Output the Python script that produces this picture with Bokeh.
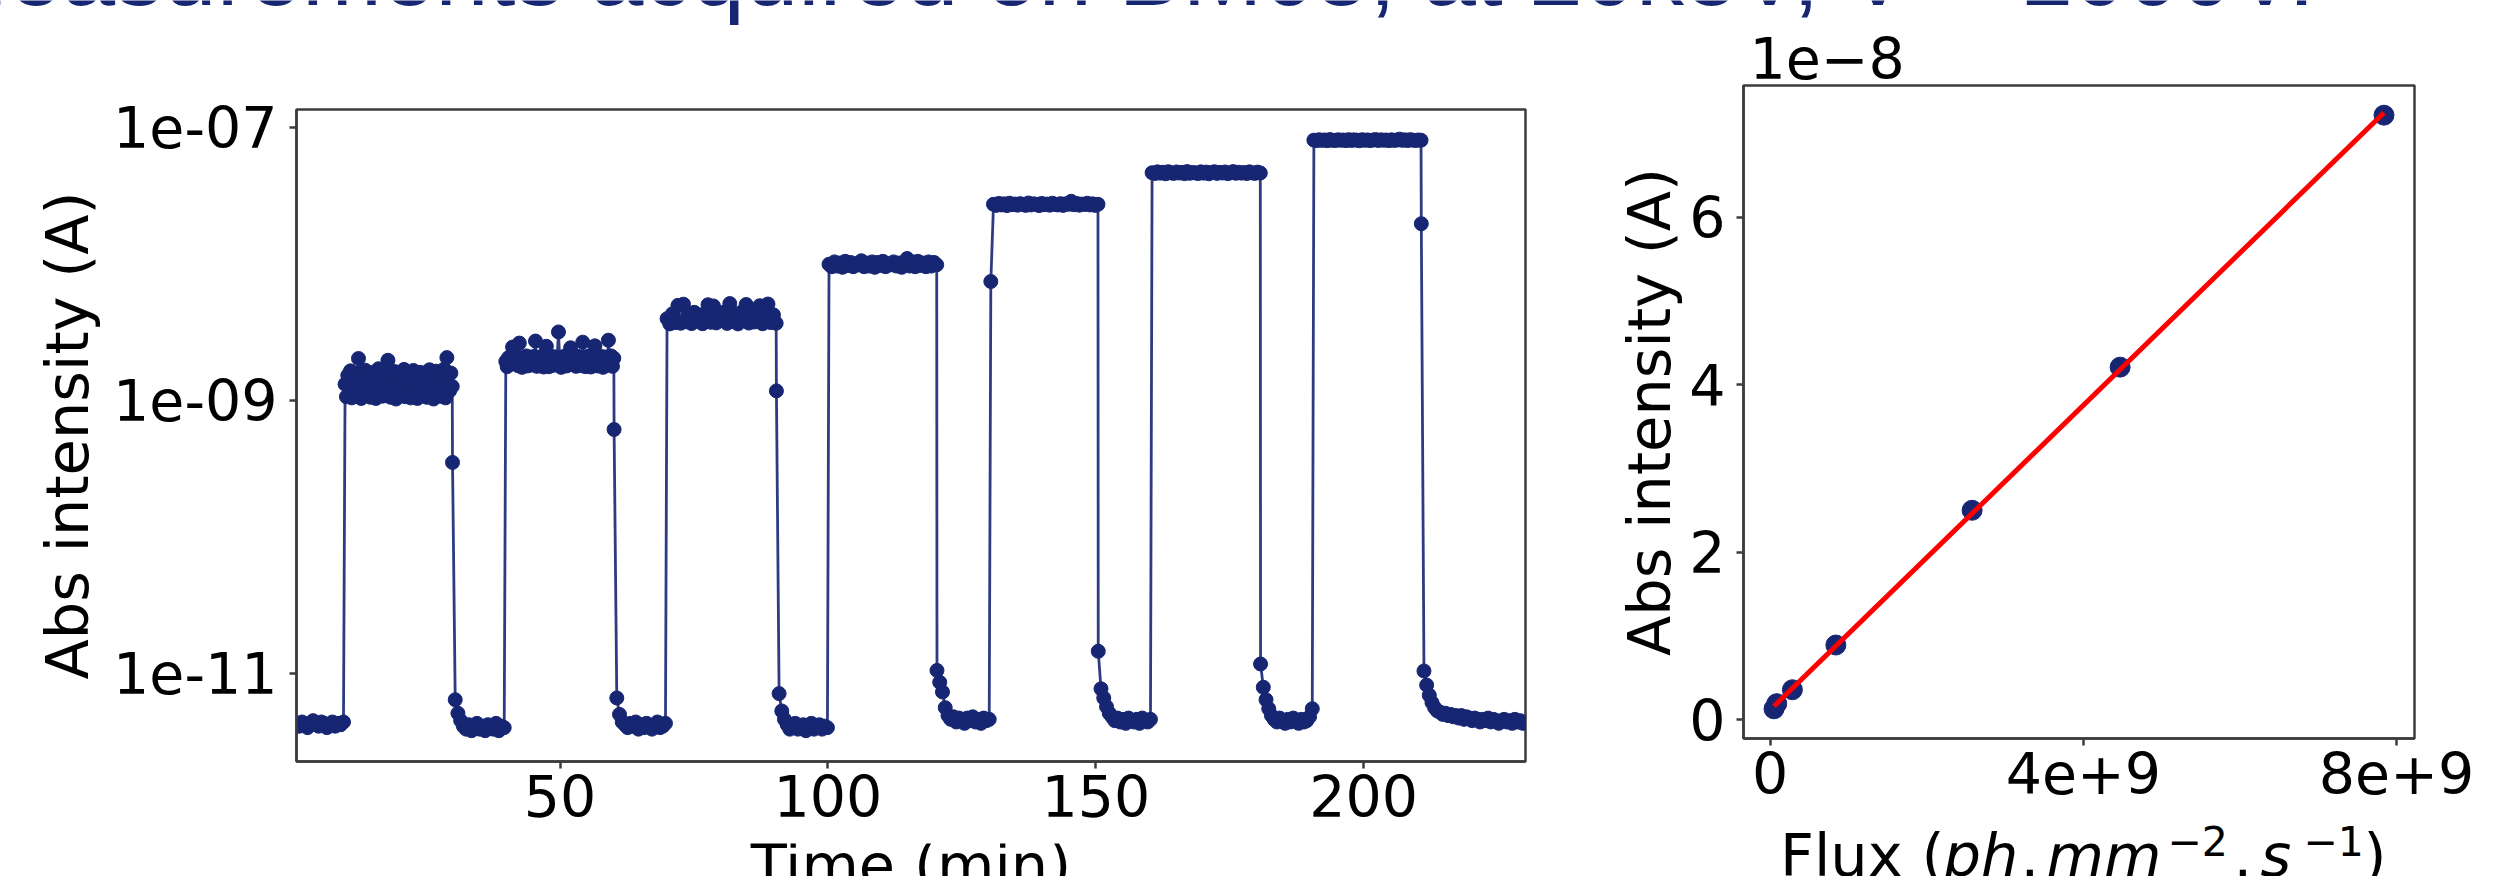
import numpy as np
from bokeh.plotting import figure
from bokeh.models import Range1d, FixedTicker, CustomJSTickFormatter, Label
from bokeh.layouts import column, row
from bokeh.embed import file_html
from bokeh.resources import INLINE

# ---------------- data ----------------
title_text = "Measurements acquired on BM05, at 20keV, V = 1000V."

record_start_min = 0.8
record_end_min = 230.2
beam_on_min = [9.87, 39.87, 69.97, 100.2, 130.4, 160.5, 190.7]
beam_off_min = [29.87, 60.03, 90.33, 120.3, 150.4, 180.7, 210.7]

# beam-on plateaus
step1_nA = [1.31, 1.06, 1.52, 1.12, 1.64, 1.04, 1.38, 1.21, 1.58, 1.09,
            2.02, 1.27, 1.03, 1.47, 1.16, 1.66, 1.08, 1.35, 1.55, 1.05,
            1.42, 1.19, 1.61, 1.03, 1.29, 1.70, 1.11, 1.44, 1.07, 1.57,
            1.24, 1.36, 1.96, 1.14, 1.05, 1.50, 1.33, 1.62, 1.02, 1.26,
            1.59, 1.10, 1.45, 1.18, 1.68, 1.06, 1.40, 1.22, 1.54, 1.04,
            1.37, 1.65, 1.13, 1.48, 1.03, 1.30, 1.60, 1.09, 1.43, 1.20,
            1.56, 1.05, 1.34, 1.67, 1.15, 1.46, 1.02, 1.28, 1.63, 1.11,
            1.41, 1.07, 1.53, 1.23, 1.69, 1.04, 2.05, 1.32, 1.17, 1.58,
            1.26]
step2_nA = [1.92, 1.76, 2.05, 1.83, 2.10, 2.45, 1.98, 1.87, 2.08, 1.79,
            2.62, 1.95, 1.74, 2.03, 1.85, 2.11, 1.78, 1.96, 2.07, 1.81,
            1.99, 2.09, 2.71, 1.77, 1.90, 2.06, 1.84, 2.11, 1.75, 2.01,
            2.48, 2.04, 1.76, 2.10, 1.93, 1.80, 2.08, 1.86, 2.02, 3.16,
            1.91, 1.74, 2.07, 1.82, 2.11, 1.78, 1.97, 2.05, 2.42, 2.09,
            1.85, 2.00, 1.77, 2.10, 1.89, 2.04, 1.79, 2.66, 1.94, 1.76,
            2.08, 1.83, 2.11, 1.75, 1.98, 2.06, 2.50, 2.10, 1.78, 2.02,
            1.87, 2.09, 1.74, 1.95, 2.07, 1.80, 2.75, 1.92, 2.11, 1.77,
            2.03]
step3_nA = [3.95, 3.62, 4.30, 3.70, 4.95, 3.66, 5.05, 3.75, 4.25, 3.64,
            4.40, 3.80, 4.10, 3.63, 4.35, 5.00, 3.72, 4.90, 3.68, 4.28,
            3.85, 4.42, 3.65, 5.10, 3.78, 4.20, 3.62, 4.38, 3.90, 5.02,
            3.67, 4.32, 3.74, 4.15, 4.92, 3.63, 4.41, 5.06, 3.70, 4.22,
            3.66]
step4_nA = [9.9, 9.5, 10.3, 9.6, 10.1, 9.4, 10.4, 9.7, 10.2, 9.5,
            10.0, 9.8, 10.5, 9.5, 10.1, 9.6, 10.3, 9.4, 10.2, 9.7,
            10.4, 9.5, 10.0, 9.8, 10.3, 9.6, 10.1, 9.4, 10.2, 10.9,
            9.6, 10.3, 9.5, 10.4, 9.7, 10.1, 9.5, 10.3, 9.6, 10.2,
            9.8]
step5_1e8A = [0.74, 2.72, 2.67, 2.76, 2.69, 2.74, 2.66, 2.77, 2.70, 2.73,
              2.68, 2.75, 2.71, 2.67, 2.78, 2.69, 2.74, 2.72, 2.66, 2.76,
              2.70, 2.73, 2.68, 2.77, 2.71, 2.69, 2.75, 2.67, 2.74, 2.72,
              2.86, 2.70, 2.76, 2.68, 2.73, 2.71, 2.77, 2.69, 2.74, 2.67,
              2.72]
step6_1e8A = [4.63, 4.57, 4.70, 4.60, 4.67, 4.55, 4.71, 4.62, 4.58, 4.69,
              4.61, 4.66, 4.56, 4.72, 4.59, 4.65, 4.62, 4.57, 4.70, 4.60,
              4.68, 4.55, 4.64, 4.71, 4.58, 4.66, 4.61, 4.69, 4.56, 4.63,
              4.72, 4.59, 4.67, 4.60, 4.65, 4.57, 4.70, 4.62, 4.58, 4.68,
              4.61]
step7_1e8A = [8.02, 7.96, 8.08, 7.99, 8.05, 7.95, 8.10, 8.00, 7.97, 8.07,
              8.01, 8.04, 7.96, 8.09, 7.98, 8.06, 8.02, 7.95, 8.08, 8.00,
              8.05, 7.97, 8.03, 8.10, 7.98, 8.06, 8.01, 8.04, 7.96, 8.07,
              7.99, 8.03, 8.16, 8.00, 8.06, 7.97, 8.09, 8.02, 7.98, 8.05,
              8.01]

# beam-off (dark current) segments, pA
dark0_pA = [4.3, 4.1, 4.4, 4.2, 4.0, 4.3, 4.5, 4.2, 4.1, 4.4, 4.3, 4.0, 4.2, 4.4, 4.1, 4.3, 4.2, 4.4]
dark1_pA = [350, 6.4, 5.1, 4.5, 4.1, 3.9, 4.2, 3.8, 4.0, 4.3, 3.9, 4.1, 3.8, 4.2, 4.0, 3.9, 4.3, 3.8, 4.1, 4.0]
dark2_pA = [610, 6.6, 5.0, 4.4, 4.2, 4.0, 4.3, 4.1, 4.4, 3.9, 4.2, 4.0, 4.3, 4.1, 3.9, 4.2, 4.4, 4.0, 4.1, 4.3]
dark3_pA = [1170, 7.1, 5.3, 4.6, 4.2, 3.9, 4.1, 4.3, 3.9, 4.0, 4.2, 3.8, 4.1, 4.3, 3.9, 4.0, 4.2, 3.9, 4.1, 4.0]
dark4_pA = [10.5, 8.6, 7.3, 5.6, 4.9, 4.6, 4.8, 4.4, 4.7, 4.5, 4.3, 4.7, 4.5, 4.8, 4.4, 4.6, 4.3, 4.7, 4.5, 4.6]
dark5_pA = [14.5, 7.7, 6.6, 5.7, 5.1, 4.8, 4.5, 4.7, 4.4, 4.6, 4.3, 4.7, 4.5, 4.4, 4.6, 4.3, 4.7, 4.5, 4.4, 4.6]
dark6_pA = [11.7, 7.9, 6.4, 5.5, 4.9, 4.6, 4.4, 4.7, 4.5, 4.3, 4.6, 4.4, 4.7, 4.5, 4.3, 4.6, 4.4, 4.5, 4.8, 5.5]
dark7_pA = [19600, 10.4, 8.2, 6.9, 6.1, 5.6, 5.3, 5.2, 5.0, 5.1,
            4.9, 5.0, 4.8, 4.9, 4.7, 4.9, 4.6, 4.8, 4.7, 4.5,
            4.7, 4.6, 4.4, 4.6, 4.5, 4.7, 4.4, 4.6, 4.5, 4.3,
            4.5, 4.6, 4.4, 4.5, 4.3, 4.6, 4.4, 4.5, 4.3, 4.4]

# right panel: mean plateau current vs photon flux
flux = [0.05e9, 0.085e9, 0.285e9, 0.84e9, 2.58e9, 4.47e9, 7.84e9]
mean_current_A = [0.128e-8, 0.19e-8, 0.356e-8, 0.89e-8, 2.50e-8, 4.21e-8, 7.22e-8]

# ---------------- build series ----------------
on_vals = [np.array(step1_nA) * 1e-9, np.array(step2_nA) * 1e-9, np.array(step3_nA) * 1e-9,
           np.array(step4_nA) * 1e-9, np.array(step5_1e8A) * 1e-8, np.array(step6_1e8A) * 1e-8,
           np.array(step7_1e8A) * 1e-8]
dark_vals = [np.array(d) * 1e-12 for d in (dark0_pA, dark1_pA, dark2_pA, dark3_pA,
                                           dark4_pA, dark5_pA, dark6_pA, dark7_pA)]
t_parts = [np.linspace(record_start_min, beam_on_min[0] - 0.3, len(dark_vals[0]))]
i_parts = [dark_vals[0]]
for k in range(7):
    t_parts.append(np.linspace(beam_on_min[k], beam_off_min[k], len(on_vals[k])))
    i_parts.append(on_vals[k])
    end = beam_on_min[k + 1] - 0.3 if k < 6 else record_end_min
    t_parts.append(np.linspace(beam_off_min[k] + 0.05, end, len(dark_vals[k + 1])))
    i_parts.append(dark_vals[k + 1])
time_min = np.concatenate(t_parts)
current_A = np.concatenate(i_parts)

slope, intercept = np.polyfit(flux, mean_current_A, 1)
fit_x = np.array([min(flux), max(flux)])
fit_y = slope * fit_x + intercept

# ---------------- styling ----------------
NAVY = "#172673"
FRAME = "#3c3c3c"
FONT = "DejaVu Sans"
TICK_PX = "57px"
LABEL_PX = "59px"
MID = 0.346      # (ascent - descent) / 2 in em, for middle-anchored text

PAGE_W = 2477
PAGE_BOTTOM = 884           # last usable page row (window 892 minus 8px margin)
TOP_H = 82                  # strip holding the title and the offset text (page 8..90)
LEFT_W = 1552
RIGHT_W = PAGE_W - LEFT_W
P1_H = 761                  # page 90..851
P2_H = 737                  # page 90..827
BOT_L_H = PAGE_BOTTOM - (90 + P1_H)
BOT_R_H = PAGE_BOTTOM - (90 + P2_H)


def no_align(p):
    if "frame_align" in p.properties():
        p.frame_align = False


def style(p):
    no_align(p)
    p.xgrid.visible = False
    p.ygrid.visible = False
    p.outline_line_color = FRAME
    p.outline_line_width = 2.5
    p.background_fill_color = "white"
    p.border_fill_color = "white"
    for ax in (p.xaxis[0], p.yaxis[0]):
        ax.axis_line_color = FRAME
        ax.axis_line_width = 2.5
        ax.major_tick_line_color = FRAME
        ax.major_tick_line_width = 2.5
        ax.major_tick_out = 7
        ax.major_tick_in = 0
        ax.minor_tick_line_color = None
        ax.major_label_text_font = FONT
        ax.major_label_text_font_size = TICK_PX
        ax.major_label_text_color = "black"
        ax.axis_label_text_font = FONT
        ax.axis_label_text_font_size = LABEL_PX
        ax.axis_label_text_font_style = "normal"
        ax.axis_label_text_color = "black"


def strip(w, h):
    s = figure(width=w, height=h, x_range=Range1d(0, w), y_range=Range1d(0, h),
               output_backend="svg", toolbar_location=None, min_border=0,
               x_axis_location=None, y_axis_location=None)
    no_align(s)
    s.grid.visible = False
    s.outline_line_color = None
    s.background_fill_color = "white"
    s.border_fill_color = "white"
    return s


def text_at(fig, txt, x, baseline_y, size_px, font=FONT, style_="normal", color="black", align="left"):
    """Place text so that its alphabetic baseline lies at baseline_y (data units, y up)."""
    fig.add_layout(Label(x=x, y=baseline_y + MID * size_px, text=txt, text_font=font,
                         text_font_size=f"{size_px}px", text_font_style=style_,
                         text_color=color, text_align=align, text_baseline="middle"))


# ---------------- top strip: title + offset text ----------------
pt = strip(PAGE_W, TOP_H)
text_at(pt, title_text, -72, TOP_H - 4, 96, font="Liberation Sans", color=NAVY)
text_at(pt, "1e\u22128", 1749, 5, 57)

# ---------------- left: time series ----------------
p1 = figure(width=LEFT_W, height=P1_H, y_axis_type="log",
            x_range=Range1d(time_min[0], time_min[-1]),
            y_range=Range1d(2.26e-12, 1.345e-7),
            output_backend="svg", toolbar_location=None,
            min_border_left=296, min_border_right=27, min_border_top=27, min_border_bottom=82)
style(p1)
p1.line(time_min, current_A, line_width=2.8, color=NAVY, line_alpha=0.9)
p1.scatter(time_min, current_A, size=14, color=NAVY)
p1.xaxis.ticker = FixedTicker(ticks=[50, 100, 150, 200], minor_ticks=[])
p1.yaxis.ticker = FixedTicker(ticks=[1e-11, 1e-9, 1e-7], minor_ticks=[])
p1.yaxis.formatter = CustomJSTickFormatter(
    code='return tick.toExponential().replace(/e-(\\d)$/, "e-0$1");')
p1.xaxis.major_label_standoff = 6
p1.yaxis.major_label_standoff = 12
p1.yaxis.axis_label = "Abs intensity (A)"
p1.yaxis.axis_label_standoff = 8

pbL = strip(LEFT_W, BOT_L_H)
left_frame_mid = (296 + (LEFT_W - 27)) / 2
text_at(pbL, "Time (min)", left_frame_mid, PAGE_BOTTOM - 893, 59, align="center")

# ---------------- right: linearity ----------------
fx0, fx1 = min(flux), max(flux)
fy0, fy1 = min(mean_current_A), max(mean_current_A)
padx, pady = 0.05 * (fx1 - fx0), 0.05 * (fy1 - fy0)
p2 = figure(width=RIGHT_W, height=P2_H,
            x_range=Range1d(fx0 - padx, fx1 + padx), y_range=Range1d(fy0 - pady, fy1 + pady),
            output_backend="svg", toolbar_location=None,
            min_border_left=191, min_border_right=63, min_border_top=3, min_border_bottom=81)
style(p2)
p2.scatter(flux, mean_current_A, size=20, color=NAVY)
p2.line(fit_x, fit_y, line_width=5, color="#ff0000")
p2.xaxis.ticker = FixedTicker(ticks=[0, 4e9, 8e9], minor_ticks=[])
p2.yaxis.ticker = FixedTicker(ticks=[0, 2e-8, 4e-8, 6e-8], minor_ticks=[])
p2.xaxis.formatter = CustomJSTickFormatter(
    code='if (Math.abs(tick) < 1) { return "0"; } return Math.round(tick / 1e9) + "e+9";')
p2.yaxis.formatter = CustomJSTickFormatter(
    code='return String(Math.abs(Math.round(tick * 1e8)));')
p2.xaxis.major_label_standoff = 6
p2.yaxis.major_label_standoff = 11
p2.yaxis.axis_label = "Abs intensity (A)"
p2.yaxis.axis_label_standoff = 2

pbR = strip(RIGHT_W, BOT_R_H)
BASE = PAGE_BOTTOM - 883
SUP = PAGE_BOTTOM - 863
pieces = [
    ("Flux (", 227.5, BASE, "normal", 59),
    ("ph", 391, BASE, "italic", 59),
    (".", 468, BASE, "normal", 59),
    ("mm", 494, BASE, "italic", 59),
    ("\u22122", 615, SUP, "normal", 41),
    (".", 681, BASE, "normal", 59),
    ("s", 708, BASE, "italic", 59),
    ("\u22121", 751, SUP, "normal", 41),
    (")", 811, BASE, "normal", 59),
]
for txt, xs, ys, st, fs in pieces:
    text_at(pbR, txt, xs, ys, fs, style_=st)

layout = column(pt, row(column(p1, pbL), column(p2, pbR)))
open("out.html", "w").write(file_html(layout, INLINE))
